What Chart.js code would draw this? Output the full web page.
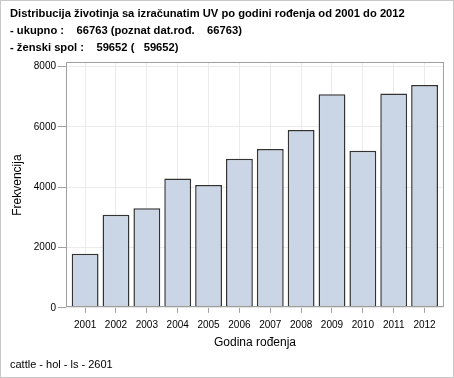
<!DOCTYPE html>
<html>
<head>
<meta charset="utf-8">
<script src="https://cdn.jsdelivr.net/npm/chart.js@4/dist/chart.umd.min.js"></script>
<style>
    html, body { margin: 0; padding: 0; background: #fff; }
    #wrap { width: 454px; height: 378px; }
</style>
</head>
<body>
<div id="wrap"><canvas id="chart" width="454" height="378"></canvas></div>
<script>
const years = ['2001', '2002', '2003', '2004', '2005', '2006', '2007', '2008', '2009', '2010', '2011', '2012'];
const counts = [1790, 3090, 3300, 4290, 4070, 4940, 5270, 5900, 7080, 5210, 7110, 7390];
const yTicks = [0, 2000, 4000, 6000, 8000];

const titleLines = [
    'Distribucija životinja sa izračunatim UV po godini rođenja od 2001 do 2012',
    '- ukupno :    66763 (poznat dat.rođ.    66763)',
    '- ženski spol :    59652 (   59652)',
];
const footerText = 'cattle - hol - ls - 2601';

const FONT = 'Arial, "Liberation Sans", sans-serif';

// SAS leaves some room between the outer bars and the frame, and above 8000
const X_MIN = -0.62;
const X_MAX = years.length - 1 + 0.63;
const Y_MAX = 8140;

const frame = {
    id: 'frame',
    beforeDraw(chart) {
        const { ctx, width, height } = chart;
        ctx.save();
        ctx.strokeStyle = '#c8c8c8';
        ctx.lineWidth = 1;
        ctx.strokeRect(0.5, 0.5, width - 1, height - 1);
        ctx.restore();
    },
    afterDatasetsDraw(chart) {
        const { ctx, chartArea } = chart;
        ctx.save();
        ctx.strokeStyle = '#a0a0a0';
        ctx.lineWidth = 1;
        ctx.strokeRect(
            Math.round(chartArea.left) + 0.5,
            Math.round(chartArea.top) + 0.5,
            Math.round(chartArea.right - chartArea.left) - 1,
            Math.round(chartArea.bottom - chartArea.top) - 1,
        );
        ctx.restore();
    },
};

new Chart(document.getElementById('chart'), {
    type: 'bar',
    data: {
        datasets: [{
            data: counts.map((c, i) => ({ x: i, y: c })),
            backgroundColor: '#cad5e5',
            borderColor: '#333333',
            borderWidth: 1.5,
            borderSkipped: false,
            barPercentage: 0.87,
            categoryPercentage: 1,
        }],
    },
    options: {
        responsive: false,
        maintainAspectRatio: false,
        animation: false,
        devicePixelRatio: 1,
        layout: { padding: { left: 10, right: 10, top: 0, bottom: 0 } },
        plugins: {
            legend: { display: false },
            tooltip: { enabled: false },
            title: {
                display: true,
                text: titleLines,
                align: 'start',
                color: '#000',
                font: { family: FONT, size: 11.2, weight: 'bold', lineHeight: 1.5 },
                padding: { top: 6, bottom: 6 },
            },
            subtitle: {
                display: true,
                position: 'bottom',
                text: footerText,
                align: 'start',
                color: '#000',
                font: { family: FONT, size: 11, weight: 'normal', lineHeight: 1.2 },
                padding: { top: 9, bottom: 6 },
            },
        },
        scales: {
            x: {
                type: 'linear',
                min: X_MIN,
                max: X_MAX,
                offset: false,
                afterBuildTicks(scale) {
                    scale.ticks = years.map((y, i) => ({ value: i }));
                },
                grid: {
                    color: '#ebebeb',
                    tickColor: '#a0a0a0',
                    tickLength: 5,
                    offset: false,
                },
                border: { display: false },
                ticks: {
                    color: '#000',
                    font: { family: FONT, size: 10 },
                    padding: 6,
                    maxRotation: 0,
                    autoSkip: false,
                    callback: (value) => years[value],
                },
                title: {
                    display: true,
                    text: 'Godina rođenja',
                    color: '#000',
                    font: { family: FONT, size: 12 },
                    padding: { top: 2, bottom: 0 },
                },
                afterFit(scale) { scale.height = 42; },
            },
            y: {
                min: 0,
                max: Y_MAX,
                afterBuildTicks(scale) {
                    scale.ticks = yTicks.map((v) => ({ value: v }));
                },
                grid: {
                    color: '#ebebeb',
                    tickColor: '#a0a0a0',
                    tickLength: 8,
                },
                border: { display: false },
                ticks: {
                    color: '#000',
                    font: { family: FONT, size: 10 },
                    padding: 2,
                    callback: (value) => String(value),
                },
                title: {
                    display: true,
                    text: 'Frekvencija',
                    color: '#000',
                    font: { family: FONT, size: 12 },
                    padding: { top: 0, bottom: 4 },
                },
                afterFit(scale) { scale.width = 56; },
            },
        },
    },
    plugins: [frame],
});
</script>
</body>
</html>
